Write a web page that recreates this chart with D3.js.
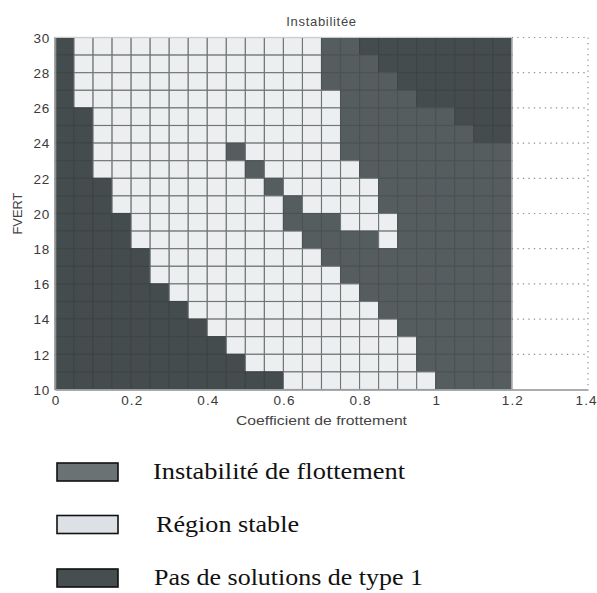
<!DOCTYPE html>
<html><head><meta charset="utf-8">
<script src="https://cdn.jsdelivr.net/npm/d3@7"></script>
<style>body{margin:0;background:#fff}svg{display:block}</style>
</head><body>
<svg id="c" width="597" height="593"></svg>
<script>
// Column lower bounds of the friction coefficient (step 0.05)
const frictionBins = d3.range(24).map(i => +(i * 0.05).toFixed(2));
// Row lower bounds of FVERT, top row first (step 1)
const fvertBins = d3.range(29, 9, -1);
// Cell classes per row (top row FVERT 29-30 first): D = no type 1 solution, L = stable, M = flutter instability
const cellRows = [
  "DLLLLLLLLLLLLLMMDDDDDDDD",
  "DLLLLLLLLLLLLLMMMDDDDDDD",
  "DLLLLLLLLLLLLLMMMMDDDDDD",
  "DLLLLLLLLLLLLLLMMMMDDDDD",
  "DDLLLLLLLLLLLLLMMMMMMDDD",
  "DDLLLLLLLLLLLLLMMMMMMMDD",
  "DDLLLLLLLMLLLLLMMMMMMMMM",
  "DDLLLLLLLLMLLLLLMMMMMMMM",
  "DDDLLLLLLLLMLLLLLMMMMMMM",
  "DDDLLLLLLLLLMLLLLMMMMMMM",
  "DDDDLLLLLLLLMMMLLLMMMMMM",
  "DDDDLLLLLLLLLMMMMLMMMMMM",
  "DDDDDLLLLLLLLLMMMMMMMMMM",
  "DDDDDLLLLLLLLLLMMMMMMMMM",
  "DDDDDDLLLLLLLLLLMMMMMMMM",
  "DDDDDDDLLLLLLLLLLMMMMMMM",
  "DDDDDDDDLLLLLLLLLLMMMMMM",
  "DDDDDDDDDLLLLLLLLLLMMMMM",
  "DDDDDDDDDDLLLLLLLLLMMMMM",
  "DDDDDDDDDDDDLLLLLLLLMMMM"
];
const xTicks = [0, 0.2, 0.4, 0.6, 0.8, 1, 1.2, 1.4];
const yTicks = [10, 12, 14, 16, 18, 20, 22, 24, 26, 28, 30];
const legendKeys = ["M", "L", "D"];
const legendLabels = ["Instabilité de flottement", "Région stable", "Pas de solutions de type 1"];

const cellFill = {D: "#454c4e", M: "#565d5f", L: "#edeef0"};
const cellStroke = {D: "#3d4446", M: "#4b5254", L: "#6f7678"};
const legendFill = {D: "#474e50", M: "#6b7274", L: "#dde0e4"};

const svg = d3.select("#c");
const x = d3.scaleLinear().domain([0, 1.4]).range([55, 588]);
const y = d3.scaleLinear().domain([10, 30]).range([389.5, 37.5]);

const cells = [];
cellRows.forEach((row, r) => {
  row.split("").forEach((k, c) => cells.push({x0: frictionBins[c], y0: fvertBins[r], k}));
});

// dotted grid beyond data
const gx0 = x(1.2), gx1 = x(1.4);
svg.append("g").selectAll("line").data(yTicks.filter(v => v > 10)).join("line")
  .attr("x1", gx0).attr("x2", gx1).attr("y1", d => y(d)).attr("y2", d => y(d))
  .attr("stroke", "#8a8f91").attr("stroke-width", 1.2).attr("stroke-dasharray", "1.3,4.2");
svg.append("line").attr("x1", gx1).attr("x2", gx1).attr("y1", y(30)).attr("y2", y(10))
  .attr("stroke", "#8a8f91").attr("stroke-width", 1.2).attr("stroke-dasharray", "1.3,4.2");

// cells
svg.append("g").selectAll("rect").data(cells).join("rect")
  .attr("x", d => x(d.x0)).attr("y", d => y(d.y0 + 1))
  .attr("width", d => x(d.x0 + 0.05) - x(d.x0)).attr("height", d => y(d.y0) - y(d.y0 + 1))
  .attr("fill", d => cellFill[d.k]).attr("stroke", d => cellStroke[d.k]).attr("stroke-width", 1.1);

// light border around data area
svg.append("rect").attr("x", x(0)).attr("y", y(30)).attr("width", x(1.2) - x(0)).attr("height", y(10) - y(30))
  .attr("fill", "none").attr("stroke", "#c9cccd").attr("stroke-width", 1);

const sans = "Liberation Sans, Arial, sans-serif";
// axes
const xAxis = svg.append("g").attr("transform", `translate(0,${y(10)})`)
  .call(d3.axisBottom(x).tickValues(xTicks).tickSize(0).tickPadding(6).tickFormat(d3.format("~g")));
const yAxis = svg.append("g").attr("transform", `translate(${x(0)},0)`)
  .call(d3.axisLeft(y).tickValues(yTicks).tickSize(0).tickPadding(6).tickFormat(d3.format("d")));
[xAxis, yAxis].forEach(a => {
  a.select(".domain").attr("stroke", "#8d9294").attr("stroke-width", 1.6);
  a.selectAll("text").attr("font-family", sans).attr("font-size", 13.5).attr("fill", "#3a3a3a");
});
yAxis.selectAll("text").attr("dy", "0.36em").attr("letter-spacing", 0.8).attr("dx", 1);
xAxis.selectAll("text").attr("textLength", d => String(d).length > 1 ? 21 : null)
  .attr("lengthAdjust", "spacing")
  .attr("dx", d => d === 1.4 ? -2.5 : 0);

svg.append("text").attr("x", (x(0) + x(1.4)) / 2).attr("y", 26).attr("text-anchor", "middle")
  .attr("font-family", sans).attr("font-size", 13).attr("letter-spacing", 0.7).attr("fill", "#444")
  .text("Instabilitée");
svg.append("text").attr("x", (x(0) + x(1.4)) / 2).attr("y", 425).attr("text-anchor", "middle")
  .attr("font-family", sans).attr("font-size", 13.5).attr("fill", "#444")
  .attr("textLength", 171).attr("lengthAdjust", "spacingAndGlyphs")
  .text("Coefficient de frottement");
svg.append("text").attr("transform", `translate(22,${(y(10) + y(30)) / 2}) rotate(-90)`).attr("text-anchor", "middle")
  .attr("font-family", sans).attr("font-size", 13.5).attr("fill", "#444")
  .attr("textLength", 42).attr("lengthAdjust", "spacingAndGlyphs")
  .text("FVERT");

// legend
const legendY = [472, 524.5, 578];
const textX = [153, 156, 154];
const textLen = [252, 143, 269];
const lg = svg.append("g").selectAll("g").data(legendKeys).join("g");
lg.append("rect").attr("x", 57).attr("y", (d, i) => legendY[i] - 9).attr("width", 61).attr("height", 18)
  .attr("fill", d => legendFill[d]).attr("stroke", "#111").attr("stroke-width", 1.6);
lg.append("text").attr("x", (d, i) => textX[i]).attr("y", (d, i) => legendY[i] + 7)
  .attr("font-family", "Liberation Serif, Times New Roman, serif").attr("font-size", 24).attr("fill", "#111")
  .attr("textLength", (d, i) => textLen[i]).attr("lengthAdjust", "spacingAndGlyphs")
  .text((d, i) => legendLabels[i]);
</script>
</body></html>
